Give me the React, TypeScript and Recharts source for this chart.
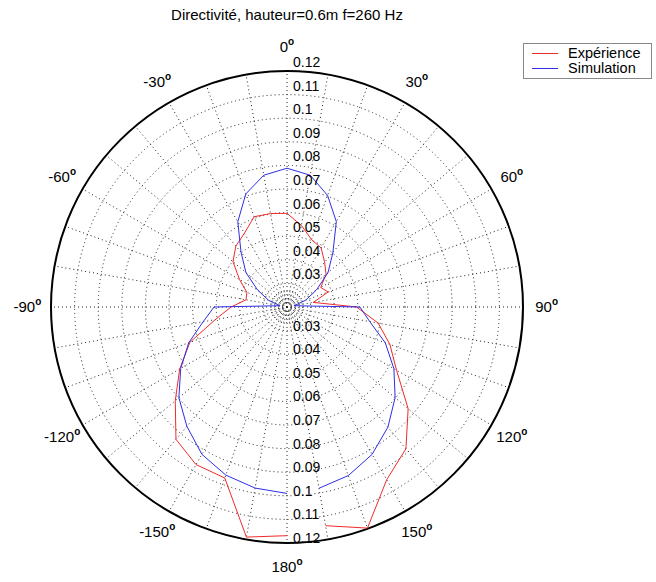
import React from "react";
import {
  RadarChart,
  Radar,
  PolarGrid,
  PolarAngleAxis,
  PolarRadiusAxis,
  Legend,
} from "recharts";

// Angles in degrees (0 = top, clockwise); open path from -180 to 170
const angles = [
  -180, -170, -160, -150, -140, -130, -120, -110, -100, -90, -80, -70, -60,
  -50, -40, -30, -20, -10, 0, 10, 20, 30, 40, 50, 60, 70, 80, 90, 100, 110,
  120, 130, 140, 150, 160, 170,
];

const experience = [
  0.1169, 0.119, 0.0971, 0.0971, 0.0932, 0.0818, 0.0725, 0.0638, 0.0509,
  0.0437, 0.0376, 0.0381, 0.0432, 0.0499, 0.0537, 0.0561, 0.0607, 0.0602,
  0.0597, 0.0551, 0.0504, 0.0489, 0.0448, 0.0416, 0.0365, 0.0386, 0.0313,
  0.0495, 0.0592, 0.0664, 0.0736, 0.087, 0.0984, 0.1045, 0.1197, 0.1141,
];

const simulation = [
  0.099, 0.0979, 0.0958, 0.0921, 0.086, 0.0798, 0.072, 0.0643, 0.0561,
  0.0509, 0.0231, 0.0283, 0.0344, 0.0427, 0.0503, 0.0617, 0.071, 0.0767,
  0.0788, 0.0767, 0.0703, 0.0618, 0.0503, 0.0427, 0.0344, 0.0283, 0.0231,
  0.0509, 0.0556, 0.0643, 0.0723, 0.0798, 0.0865, 0.0921, 0.096, 0.098,
];

// radial axis: centre of the plot corresponds to RADIAL_MIN
const RADIAL_MIN = 0.02;
const RADIAL_MAX = 0.12;
const radiusTicks = [0.03, 0.04, 0.05, 0.06, 0.07, 0.08, 0.09, 0.1, 0.11, 0.12];
const angleLabelStep = 30;

const seriesNames = ["Expérience", "Simulation"];
const title = "Directivité, hauteur=0.6m f=260 Hz";

const data = angles.map((a, i) => ({
  angle: a,
  exp: experience[i] - RADIAL_MIN,
  sim: simulation[i] - RADIAL_MIN,
}));
const shiftedTicks = radiusTicks.map((t) => t - RADIAL_MIN);
const shiftedDomain = [0, RADIAL_MAX - RADIAL_MIN];

const W = 656;
const H = 582;
const CX = 287;
const CY = 307;
const R = 236;
const LABEL_R = R * 1.1;
const FONT = '"Liberation Sans", Arial, Helvetica, sans-serif';
const RED = "#f02a2a";
const BLUE = "#2e2ee8";
const seriesColors = [RED, BLUE];

const OpenLine = (color: string) => (props: any) => {
  const pts = (props.points || [])
    .map((p: any) => `${p.x},${p.y}`)
    .join(" ");
  return (
    <polyline
      points={pts}
      fill="none"
      stroke={color}
      strokeWidth={1}
      strokeLinejoin="miter"
    />
  );
};

const AngleTick = (props: any) => {
  const { x, y, payload } = props;
  const v = Number(payload.value);
  if (v % angleLabelStep !== 0) return <g />;
  const dx = x - CX;
  const dy = y - CY;
  const d = Math.hypot(dx, dy) || 1;
  const lx = CX + (dx / d) * LABEL_R;
  const ly = CY + (dy / d) * LABEL_R;
  const label = v === -180 ? 180 : v;
  return (
    <text
      x={lx}
      y={ly + 5}
      textAnchor="middle"
      fontFamily={FONT}
      fontSize={15}
      fill="#000"
    >
      {label}
      <tspan dy={-7} fontSize={10} fontWeight="bold">
        o
      </tspan>
    </text>
  );
};

const RadiusTick = (offsetY: number) => (props: any) => {
  const { x, y, payload } = props;
  const value = Number((Number(payload.value) + RADIAL_MIN).toFixed(2));
  return (
    <text
      x={x + 6}
      y={y + offsetY + 5}
      textAnchor="start"
      fontFamily={FONT}
      fontSize={14}
      fill="#000"
    >
      {String(value)}
    </text>
  );
};

const LegendBox = () => (
  <div
    style={{
      border: "1px solid #888",
      background: "#fff",
      width: 127,
      padding: "2px 0",
      fontFamily: FONT,
      fontSize: 14.5,
      lineHeight: "15px",
    }}
  >
    {seriesNames.map((name, i) => (
      <div
        key={name}
        style={{ display: "flex", alignItems: "center", height: 15 }}
      >
        <div
          style={{
            width: 26,
            height: 1,
            background: seriesColors[i],
            marginLeft: 8,
            marginRight: 10,
          }}
        />
        <span style={{ color: "#000", whiteSpace: "nowrap" }}>{name}</span>
      </div>
    ))}
  </div>
);

export default function App() {
  return (
    <div
      style={{
        position: "absolute",
        left: 0,
        top: 0,
        width: W,
        height: H,
        background: "#fff",
      }}
    >
      <div
        style={{
          position: "absolute",
          left: 0,
          top: 6,
          width: 574,
          textAlign: "center",
          fontFamily: FONT,
          fontSize: 15,
          color: "#000",
          zIndex: 2,
        }}
      >
        {title}
      </div>
      <RadarChart
        width={W}
        height={H}
        data={data}
        cx={CX}
        cy={CY}
        outerRadius={R}
        innerRadius={0}
        startAngle={-90}
        endAngle={-450}
        margin={{ top: 0, right: 0, bottom: 0, left: 0 }}
      >
        <PolarGrid
          gridType="circle"
          stroke="#222"
          strokeDasharray="1 3"
          strokeWidth={1}
        />
        <PolarGrid
          gridType="circle"
          polarRadius={[3.5, 7.5, 11.5, 15.5]}
          radialLines={false}
          stroke="#333"
          strokeDasharray="1 2"
          strokeWidth={1}
        />
        <PolarGrid
          gridType="circle"
          polarRadius={[R]}
          radialLines={false}
          stroke="#000"
          strokeWidth={2}
        />
        <PolarAngleAxis
          dataKey="angle"
          type="category"
          axisLine={false}
          tickLine={false}
          tick={AngleTick}
        />
        <PolarRadiusAxis
          type="number"
          domain={shiftedDomain}
          ticks={shiftedTicks}
          allowDataOverflow
          angle={90}
          axisLine={false}
          tickLine={false}
          tick={RadiusTick(-9)}
        />
        <PolarRadiusAxis
          radiusAxisId="bottom"
          type="number"
          domain={shiftedDomain}
          ticks={shiftedTicks}
          allowDataOverflow
          angle={-90}
          axisLine={false}
          tickLine={false}
          tick={RadiusTick(-5)}
        />
        <Radar
          name={seriesNames[0]}
          dataKey="exp"
          stroke={RED}
          fill="none"
          fillOpacity={0}
          dot={false}
          isAnimationActive={false}
          shape={OpenLine(RED)}
        />
        <Radar
          name={seriesNames[1]}
          dataKey="sim"
          stroke={BLUE}
          fill="none"
          fillOpacity={0}
          dot={false}
          isAnimationActive={false}
          shape={OpenLine(BLUE)}
        />
        <Legend
          content={LegendBox}
          wrapperStyle={{ position: "absolute", left: 523, top: 43, width: 129 }}
        />
      </RadarChart>
    </div>
  );
}
